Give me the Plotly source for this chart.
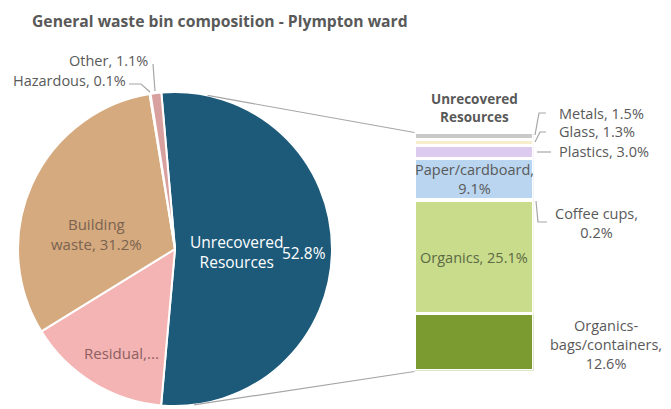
import plotly.graph_objects as go
import math

# ---------------- data ----------------
pie_labels = ["Unrecovered Resources", "Residual", "Building waste", "Hazardous", "Other"]
pie_values = [52.8, 14.8, 31.2, 0.1, 1.1]
pie_colors = ["#1d5a7a", "#f5b4b4", "#d6aa7f", "#e8e0d8", "#d9a0a0"]

bar_labels = ["Organics-bags/containers", "Organics", "Coffee cups", "Paper/cardboard", "Plastics", "Glass", "Metals"]
bar_values = [12.6, 25.1, 0.2, 9.1, 3.0, 1.3, 1.5]
bar_colors = ["#7b9a2f", "#c9dc8b", "#b08a60", "#bad5ef", "#dccbef", "#f6edcc", "#c9c9c9"]

W, H = 671, 409
def px(x): return x / W
def py(y): return 1 - y / H

GRAY = "#595959"
FONT = "Open Sans"
FS = 14.5

fig = go.Figure()

# ---------------- pie ----------------
pcx, pcy, pr = 175, 249, 157
fig.add_trace(go.Pie(
    labels=pie_labels, values=pie_values, sort=False, direction="clockwise",
    rotation=-5, textinfo="none", hoverinfo="label+percent",
    marker=dict(colors=pie_colors, line=dict(color="white", width=2)),
    domain=dict(x=[px(pcx - pr), px(pcx + pr)], y=[py(pcy + pr), py(pcy - pr)]),
    showlegend=False,
))

# ---------------- stacked bar ----------------
bx0, bx1 = 414.5, 533.5
ybot, ytop = 370.5, 132.5
total = sum(bar_values)
for lab, val, col in zip(bar_labels, bar_values, bar_colors):
    fig.add_trace(go.Bar(
        x=[0], y=[val], width=1, name=lab, marker=dict(color=col, line=dict(color="white", width=3)),
        showlegend=False, hoverinfo="name+y",
    ))

fig.update_layout(
    barmode="stack",
    width=W, height=H, margin=dict(l=0, r=0, t=0, b=0),
    paper_bgcolor="white", plot_bgcolor="white",
    xaxis=dict(domain=[px(bx0), px(bx1)], range=[-0.5, 0.5], visible=False, fixedrange=True),
    yaxis=dict(domain=[py(ybot), py(ytop)], range=[0, total], visible=False, fixedrange=True),
    font=dict(family=FONT, color=GRAY, size=FS),
)

# cumulative midpoints
cum = []
c = 0
for v in bar_values:
    cum.append(c + v / 2)
    c += v

ann = []
def A(x, y, text, size=FS, color=GRAY, xanchor="center", yanchor="middle"):
    ann.append(dict(x=px(x), y=py(y), xref="paper", yref="paper", text=text, showarrow=False,
                    xanchor=xanchor, yanchor=yanchor,
                    font=dict(family=FONT, size=size, color=color)))

# title
A(30, 21, "<b>General waste bin composition - Plympton ward</b>", size=15.7, xanchor="left")

# inside bar labels (data coords)
for i, lab in enumerate(bar_labels):
    if lab == "Paper/cardboard":
        ann.append(dict(x=0, y=cum[i], xref="x", yref="y", showarrow=False, xanchor="center", yanchor="middle",
                        text="Paper/cardboard,<br>9.1%", font=dict(family=FONT, size=FS, color=GRAY)))
    if lab == "Organics":
        ann.append(dict(x=0, y=cum[i], xref="x", yref="y", showarrow=False, xanchor="center", yanchor="middle",
                        text="Organics, 25.1%", font=dict(family=FONT, size=FS, color="#5b6a45")))

# bar header
A(474, 108, "<b>Unrecovered<br>Resources</b>", size=13.5)

# outside bar labels
A(557, 113, "Metals, 1.5%", xanchor="left")
A(557, 132, "Glass, 1.3%", xanchor="left")
A(557, 152, "Plastics, 3.0%", xanchor="left")
A(596, 223, "Coffee cups,<br>0.2%")
A(606, 344, "Organics-<br>bags/containers,<br>12.6%")

# pie labels
A(237, 252, "Unrecovered<br>Resources", size=15.5, color="white")
A(304, 253, "52.8%", size=15.5, color="white")
A(96, 234, "Building<br>waste, 31.2%", size=15, color="#7a6350")
A(121, 353, "Residual,...", size=15, color="#8c5f5f")
A(108, 60, "Other, 1.1%")
A(69, 81, "Hazardous, 0.1%")

shapes = []
def L(path):
    shapes.append(dict(type="path", xref="paper", yref="paper", path=path,
                       line=dict(color="#a6a6a6", width=1.2)))
def P(pts):
    return "M " + " L ".join(f"{px(x)},{py(y)}" for x, y in pts)

# leader lines
L(P([(535, 135), (539, 113), (546, 113)]))
L(P([(535, 142), (540, 132), (546, 132)]))
L(P([(537, 152), (551, 152)]))
L(P([(536, 201), (538, 222), (547, 222)]))
L(P([(153, 64), (155, 91)]))
L(P([(129, 84), (141, 84), (150, 92)]))

# connector lines from pie to bar
a_top, a_bot = math.radians(12), math.radians(173)
def onpie(a): return (pcx + pr * math.sin(a), pcy - pr * math.cos(a))
L(P([onpie(a_top), (bx0, ytop)]))
L(P([onpie(a_bot), (bx0, ybot + 1)]))

fig.update_layout(annotations=ann, shapes=shapes)
fig.write_html("out.html")
